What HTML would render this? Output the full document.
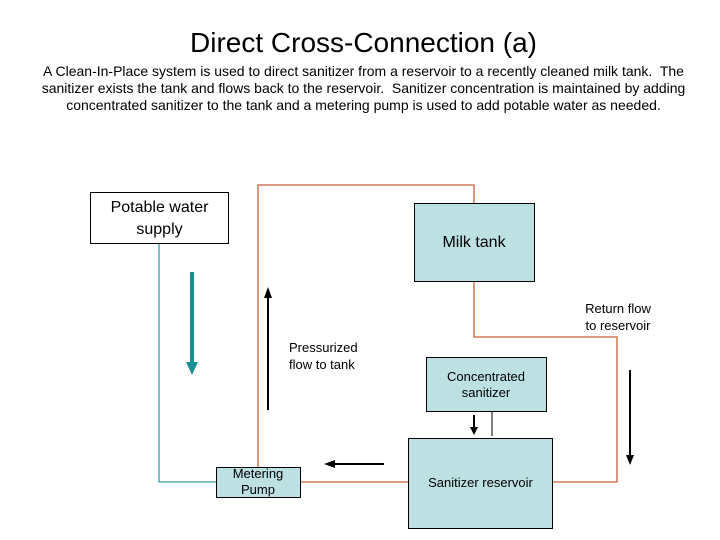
<!DOCTYPE html>
<html><head><style>
body{margin:0;background:#fff;width:720px;height:540px;overflow:hidden;font-family:"Liberation Sans",sans-serif;}
.t{position:absolute;text-align:center;color:#000;}
</style></head><body>
<div class="t" style="left:0;top:27px;width:727px;font-size:28px;">Direct Cross-Connection (a)</div>
<div class="t" style="left:0;top:63px;width:727px;font-size:14px;line-height:17px;white-space:nowrap;">A Clean-In-Place system is used to direct sanitizer from a reservoir to a recently cleaned milk tank.&nbsp; The<br>sanitizer exists the tank and flows back to the reservoir.&nbsp; Sanitizer concentration is maintained by adding<br>concentrated sanitizer to the tank and a metering pump is used to add potable water as needed.</div>
<svg width="720" height="540" style="position:absolute;left:0;top:0">
<g fill="none" stroke="#c8613a" stroke-width="1.3">
<polyline points="258,467 258,185 474,185 474,203"/>
<polyline points="474,281 474,337 617,337 617,482 553,482"/>
<line x1="300" y1="482" x2="408" y2="482"/>
</g>
<polyline points="159,243 159,482 216,482" fill="none" stroke="#3a9aa0" stroke-width="1.3"/>
<rect x="90.5" y="192.5" width="138" height="51" fill="#fff" stroke="#000"/>
<rect x="414.5" y="203.5" width="120" height="78" fill="#bde0e3" stroke="#000"/>
<rect x="426.5" y="357.5" width="120" height="54" fill="#bde0e3" stroke="#000"/>
<rect x="408.5" y="438.5" width="144" height="90" fill="#bde0e3" stroke="#000"/>
<rect x="216.5" y="467.5" width="84" height="30" fill="#bde0e3" stroke="#000"/>
<line x1="492" y1="411" x2="492" y2="436" stroke="#000"/>
<line x1="192" y1="272" x2="192" y2="364" stroke="#1a8f96" stroke-width="4"/>
<polygon points="186,362 198,362 192,375" fill="#1a8f96"/>
<line x1="268" y1="297" x2="268" y2="410" stroke="#000" stroke-width="2"/>
<polygon points="264,298 272,298 268,287" fill="#000"/>
<line x1="334" y1="464" x2="384" y2="464" stroke="#000" stroke-width="2"/>
<polygon points="324,464 335,460 335,468" fill="#000"/>
<line x1="630" y1="370" x2="630" y2="456" stroke="#000" stroke-width="2"/>
<polygon points="626,455 634,455 630,465" fill="#000"/>
<line x1="474" y1="415" x2="474" y2="428" stroke="#000" stroke-width="2"/>
<polygon points="470,427 478,427 474,435" fill="#000"/>
</svg>
<div class="t" style="left:90px;top:197px;width:139px;font-size:16px;line-height:22px;">Potable water<br>supply</div>
<div class="t" style="left:414px;top:234px;width:120px;font-size:16px;">Milk tank</div>
<div class="t" style="left:426px;top:369px;width:120px;font-size:13px;line-height:16px;">Concentrated<br>sanitizer</div>
<div class="t" style="left:408px;top:475px;width:145px;font-size:13px;">Sanitizer reservoir</div>
<div class="t" style="left:216px;top:466px;width:84px;font-size:13px;line-height:16px;">Metering<br>Pump</div>
<div class="t" style="left:289px;top:339px;width:84px;font-size:13px;line-height:17px;text-align:left;">Pressurized<br>flow to tank</div>
<div class="t" style="left:578px;top:300px;width:80px;font-size:13px;line-height:17px;">Return flow<br>to reservoir</div>
</body></html>
